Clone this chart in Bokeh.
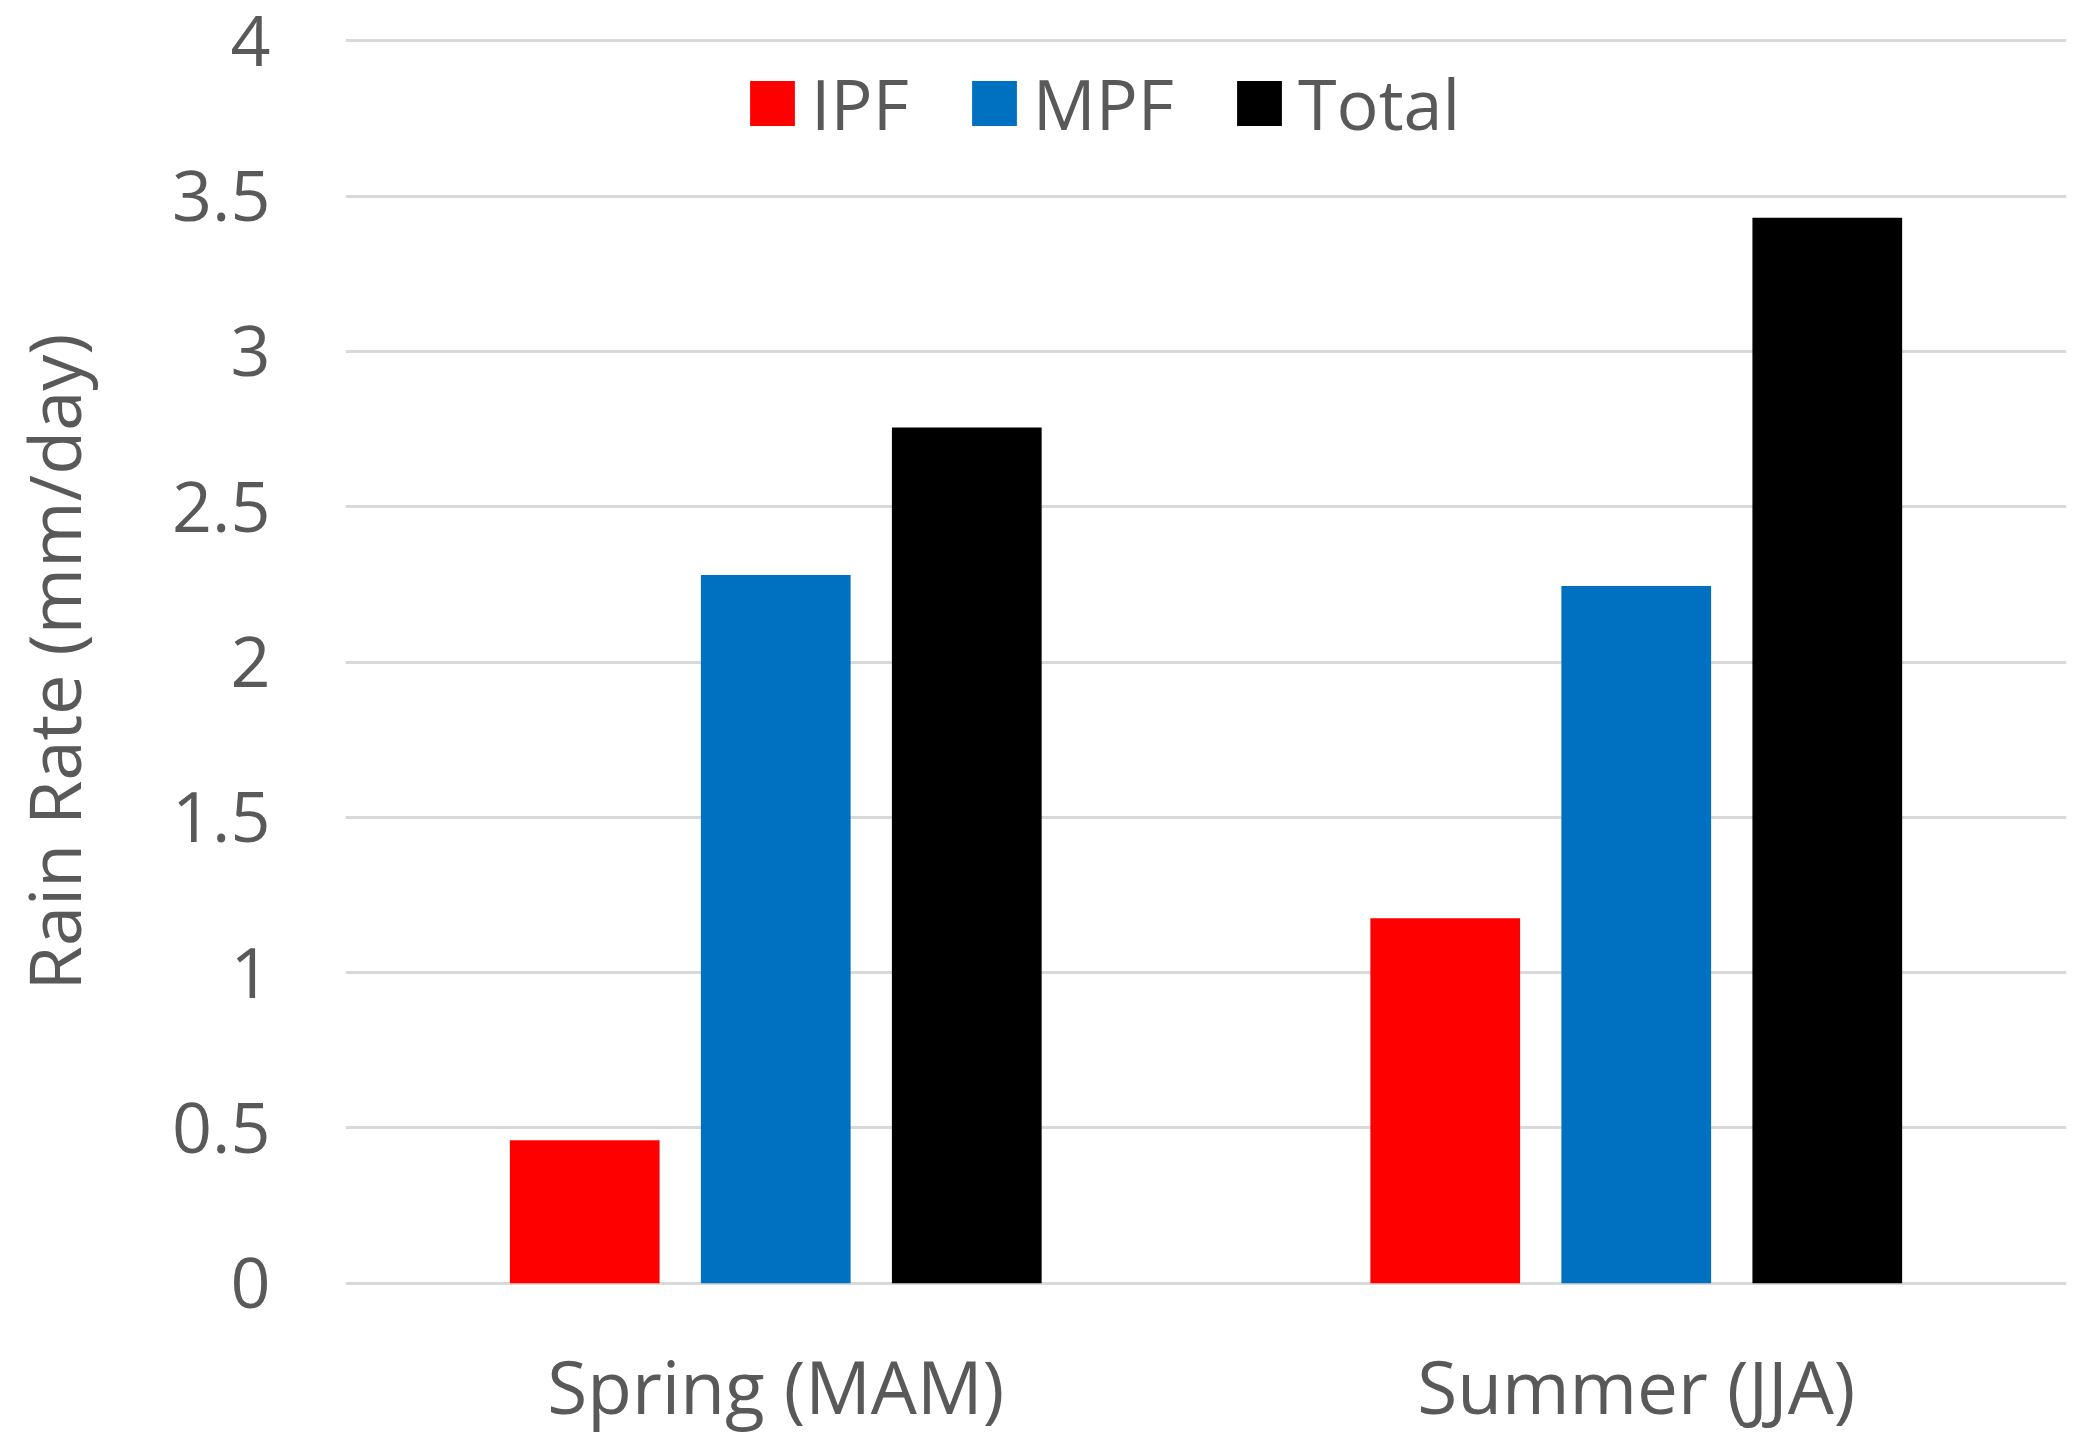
from bokeh.plotting import figure
from bokeh.models import ColumnDataSource, Range1d, FixedTicker, Legend, LegendItem
from bokeh.transform import dodge
from bokeh.embed import file_html
from bokeh.resources import INLINE

categories = ["Spring (MAM)", "Summer (JJA)"]
ipf = [0.46, 1.175]
mpf = [2.28, 2.245]
total = [2.755, 3.43]
series_names = ["IPF", "MPF", "Total"]
series_colors = ["#FF0000", "#0070C0", "#000000"]
y_ticks = [0, 0.5, 1, 1.5, 2, 2.5, 3, 3.5, 4]
y_tick_labels = ["0", "0.5", "1", "1.5", "2", "2.5", "3", "3.5", "4"]

FONT = "Open Sans"
TXT = "#595959"

pos = list(range(len(categories)))
source = ColumnDataSource(dict(x=pos, IPF=ipf, MPF=mpf, Total=total))

p = figure(width=2071, height=1442, output_backend="svg", toolbar_location=None,
           x_range=Range1d(-0.5, 1.5), y_range=Range1d(-0.03, 4.03),
           min_border_left=345, min_border_right=5, min_border_top=31,
           min_border_bottom=150)
p.outline_line_color = None
p.background_fill_color = "white"

offsets = [-0.222, 0.0, 0.222]
renderers = []
for name, col, off in zip(series_names, series_colors, offsets):
    r = p.vbar(x=dodge("x", off, range=p.x_range), top=name, width=0.174,
               source=source, fill_color=col, line_color=None)
    renderers.append(r)

p.xgrid.visible = False
p.ygrid.grid_line_color = "#D9D9D9"
p.ygrid.grid_line_width = 3
p.ygrid.level = "underlay"

p.yaxis.ticker = FixedTicker(ticks=y_ticks)
p.yaxis.major_label_overrides = {t: l for t, l in zip(y_ticks, y_tick_labels)}
p.xaxis.ticker = FixedTicker(ticks=pos)
p.xaxis.major_label_overrides = {i: c for i, c in zip(pos, categories)}

for ax in (p.xaxis, p.yaxis):
    ax.axis_line_color = None
    ax.major_tick_line_color = None
    ax.minor_tick_line_color = None
    ax.major_label_text_font = FONT
    ax.major_label_text_color = TXT

p.xaxis.major_label_text_font_size = "73px"
p.yaxis.major_label_text_font_size = "70px"
p.yaxis.major_label_standoff = 69
p.xaxis.major_label_standoff = 37
p.yaxis.axis_label = "Rain Rate (mm/day)"
p.yaxis.axis_label_text_font = FONT
p.yaxis.axis_label_text_font_size = "72px"
p.yaxis.axis_label_text_font_style = "normal"
p.yaxis.axis_label_text_color = TXT
p.yaxis.axis_label_standoff = 67

legend = Legend(items=[LegendItem(label=n, renderers=[r]) for n, r in zip(series_names, renderers)],
                orientation="horizontal", location=(399, 1141),
                glyph_width=56, glyph_height=56, label_standoff=11, spacing=57,
                padding=0, margin=0, border_line_color=None, background_fill_alpha=0,
                label_text_font=FONT, label_text_font_size="70px", label_text_color=TXT)
p.add_layout(legend)

open("out.html", "w").write(file_html(p, INLINE))
